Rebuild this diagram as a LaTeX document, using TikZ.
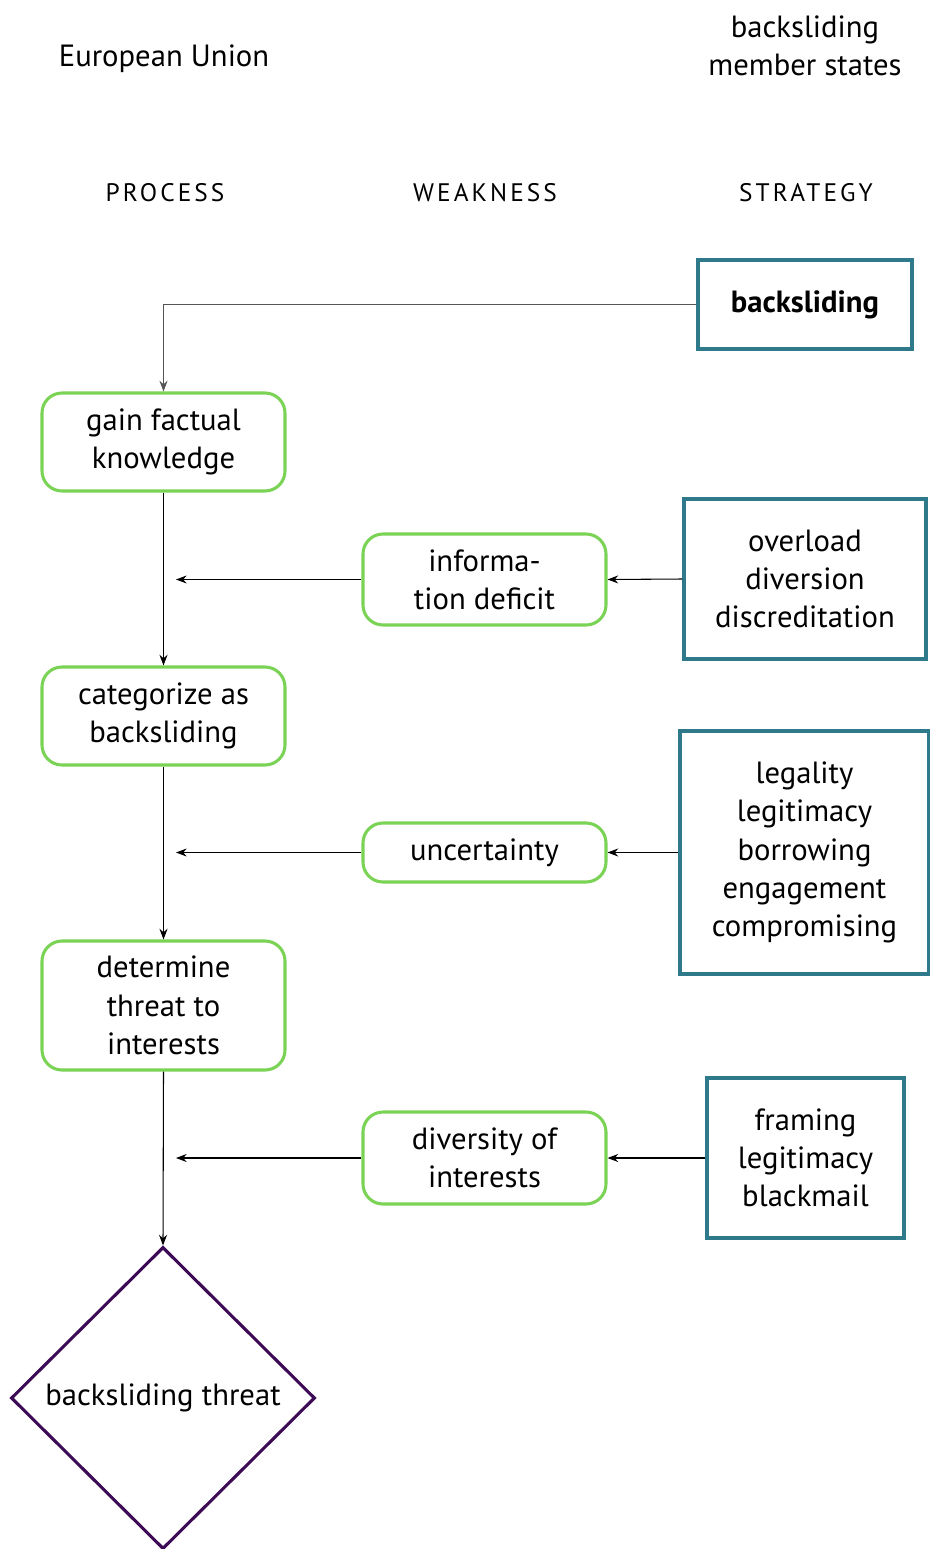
\documentclass[tikz,border=0pt]{standalone}
\usepackage{fontspec}
\setmainfont{PT Sans}
\newfontfamily\hdrfont[LetterSpace=12]{PT Sans}
\usetikzlibrary{shapes.geometric,arrows.meta}
\definecolor{tealbox}{HTML}{2E7A8A}
\definecolor{greenbox}{HTML}{7AD354}
\definecolor{purpbox}{HTML}{3D0A55}
\definecolor{greyline}{HTML}{555555}
\begin{document}
\begin{tikzpicture}[x=0.75pt,y=-0.75pt,
  font=\fontsize{23}{28.7}\selectfont,
  proc/.style={draw=greenbox, line width=2.3pt, rounded corners=15pt, align=center, inner sep=0pt, minimum width=182.25pt},
  strat/.style={draw=tealbox, line width=2.3pt, align=center, inner sep=0pt},
  hdr/.style={font=\hdrfont\fontsize{19}{22}\selectfont},
  arr/.style={-{Stealth[length=8pt,width=6pt]}, line width=0.8pt}]
\useasboundingbox (0,0) rectangle (930,1549);

% headers
\node (eu) at (164,59) {European Union};
\node[align=center] (bms) at (805,46) {backsliding\\member states};
\node[hdr] (hp) at (165,193) {PROCESS};
\node[hdr] (hw) at (485,193) {WEAKNESS};
\node[hdr] (hs) at (806,193) {STRATEGY};

% strategy boxes
\node[strat, minimum width=160.5pt, minimum height=66.75pt] (bs) at (805,304.5) {\textbf{backsliding}};
\node[strat, minimum width=181.5pt, minimum height=120pt] (ov) at (805,579) {overload\\diversion\\discreditation};
\node[strat, minimum width=186.75pt, minimum height=182.25pt] (leg) at (804.5,852.5) {legality\\legitimacy\\borrowing\\engagement\\compromising};
\node[strat, minimum width=147.75pt, minimum height=120pt] (fr) at (805.5,1158) {framing\\legitimacy\\blackmail};

% process boxes
\node[proc, minimum height=73.5pt] (gf) at (163.5,442) {gain factual\\knowledge};
\node[proc, minimum height=73.5pt] (cat) at (163.5,716) {categorize as\\backsliding};
\node[proc, minimum height=96.75pt] (det) at (163.5,1005.5) {determine\\threat to\\interests};

% weakness boxes
\node[proc, minimum height=68.25pt] (info) at (484.5,579.5) {informa-\\tion deficit};
\node[proc, minimum height=44.25pt] (unc) at (484.5,852.5) {uncertainty};
\node[proc, minimum height=69pt] (div) at (484.5,1158) {diversity of\\interests};

% final diamond
\node[diamond, draw=purpbox, line width=2.3pt, inner sep=0pt, minimum width=228pt, minimum height=226.5pt] (thr) at (163,1398) {backsliding threat};

% free ends
\coordinate (e1) at (176,579.5);
\coordinate (e2) at (176,852.5);
\coordinate (e3) at (176,1158);

% connectors
\draw[arr, draw=greyline] (bs.west) -| (gf.north);
\draw[arr] (gf.south) -- (cat.north);
\draw[arr] (cat.south) -- (det.north);
\draw[arr] (det.south) -- (thr.north);
\draw[arr] (ov.west) -- (info.east);
\draw[arr] (leg.west) -- (unc.east);
\draw[arr] (fr.west) -- (div.east);
\draw[arr] (info.west) -- (e1);
\draw[arr] (unc.west) -- (e2);
\draw[arr] (div.west) -- (e3);
\end{tikzpicture}
\end{document}
